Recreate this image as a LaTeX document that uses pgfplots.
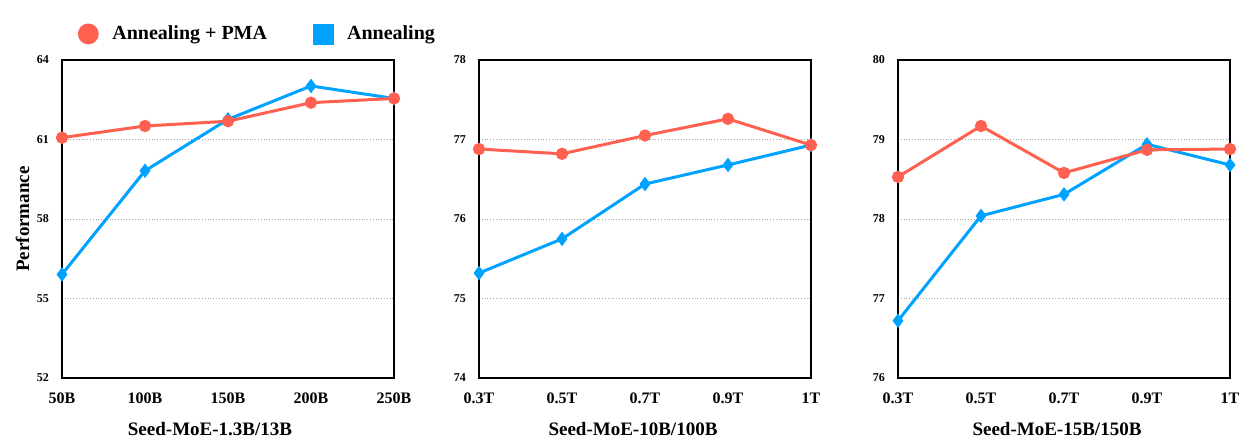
\documentclass[border=0pt]{standalone}
\usepackage{fontspec}
\setmainfont{Liberation Serif}
\usepackage{pgfplots}
\pgfplotsset{compat=1.18}

\definecolor{pmared}{RGB}{255,96,80}
\definecolor{annblue}{RGB}{0,162,255}

\pgfplotstableread{
x pma ann
0 61.07 55.91
1 61.51 59.82
2 61.69 61.76
3 62.39 63.02
4 62.55 62.55
}\smalltab

\pgfplotstableread{
x pma ann
0 76.88 75.32
1 76.82 75.75
2 77.05 76.44
3 77.26 76.68
4 76.93 76.93
}\midtab

\pgfplotstableread{
x pma ann
0 78.53 76.72
1 79.17 78.04
2 78.58 78.31
3 78.87 78.94
4 78.88 78.68
}\bigtab

\pgfplotsset{
  panel/.style={
    scale only axis,
    width=166pt, height=159pt,
    xmin=0, xmax=4,
    xtick={0,1,2,3,4},
    clip=false,
    axis line style={line width=1pt},
    major tick length=0pt,
    ymajorgrids,
    grid style={densely dotted, gray!70, line width=0.5pt},
    /pgf/number format/assume math mode=true,
    yticklabel style={font=\bfseries\fontsize{6}{7}\selectfont, xshift=-3pt},
    xticklabel style={font=\bfseries\fontsize{8}{9}\selectfont, yshift=-4pt},
    xlabel style={font=\bfseries\fontsize{9.5}{11}\selectfont, yshift=-2.5pt},
  },
  pmaline/.style={color=pmared, line width=1.5pt, mark=*, mark size=2.3pt},
  annline/.style={color=annblue, line width=1.5pt, mark=diamond*, mark size=2.4pt},
}

\begin{document}
\begin{tikzpicture}
\path[use as bounding box] (0,0) rectangle (627pt,223.5pt);

\begin{axis}[panel,
  at={(31pt,34.5pt)}, anchor=south west,
  ymin=52, ymax=64, ytick={52,55,58,61,64},
  xticklabels={50B,100B,150B,200B,250B},
  xlabel={Seed-MoE-1.3B/13B},
  xlabel style={xshift=-9pt},
  ylabel={Performance},
  ylabel style={font=\bfseries\fontsize{9.5}{11}\selectfont, yshift=-3pt},
]
\addplot[annline] table[x=x, y=ann] {\smalltab};
\addplot[pmaline] table[x=x, y=pma] {\smalltab};
\end{axis}

% legend only
\begin{axis}[panel,
  at={(31pt,34.5pt)}, anchor=south west,
  ymin=52, ymax=64, hide axis,
  legend style={at={(0.048,1.082)}, anchor=west, draw=none, fill=none,
    inner sep=0pt,
    font=\bfseries\fontsize{10}{12}\selectfont, legend columns=2,
    /tikz/every odd column/.append style={column sep=5pt},
    /tikz/every even column/.append style={column sep=21pt}},
  legend cell align=left,
]
\addlegendimage{only marks, mark=*, mark size=5pt, color=pmared}
\addlegendentry{Annealing + PMA}
\addlegendimage{only marks, mark=square*, mark size=5pt, color=annblue}
\addlegendentry{Annealing}
\end{axis}

\begin{axis}[panel,
  at={(239.5pt,34.5pt)}, anchor=south west,
  ymin=74, ymax=78, ytick={74,75,76,77,78},
  xticklabels={0.3T,0.5T,0.7T,0.9T,1T},
  xlabel={Seed-MoE-10B/100B},
  xlabel style={xshift=-6pt},
]
\addplot[annline] table[x=x, y=ann] {\midtab};
\addplot[pmaline] table[x=x, y=pma] {\midtab};
\end{axis}

\begin{axis}[panel,
  at={(449pt,34.5pt)}, anchor=south west,
  ymin=76, ymax=80, ytick={76,77,78,79,80},
  xticklabels={0.3T,0.5T,0.7T,0.9T,1T},
  xlabel={Seed-MoE-15B/150B},
  xlabel style={xshift=-3.5pt},
]
\addplot[annline] table[x=x, y=ann] {\bigtab};
\addplot[pmaline] table[x=x, y=pma] {\bigtab};
\end{axis}
\end{tikzpicture}
\end{document}
